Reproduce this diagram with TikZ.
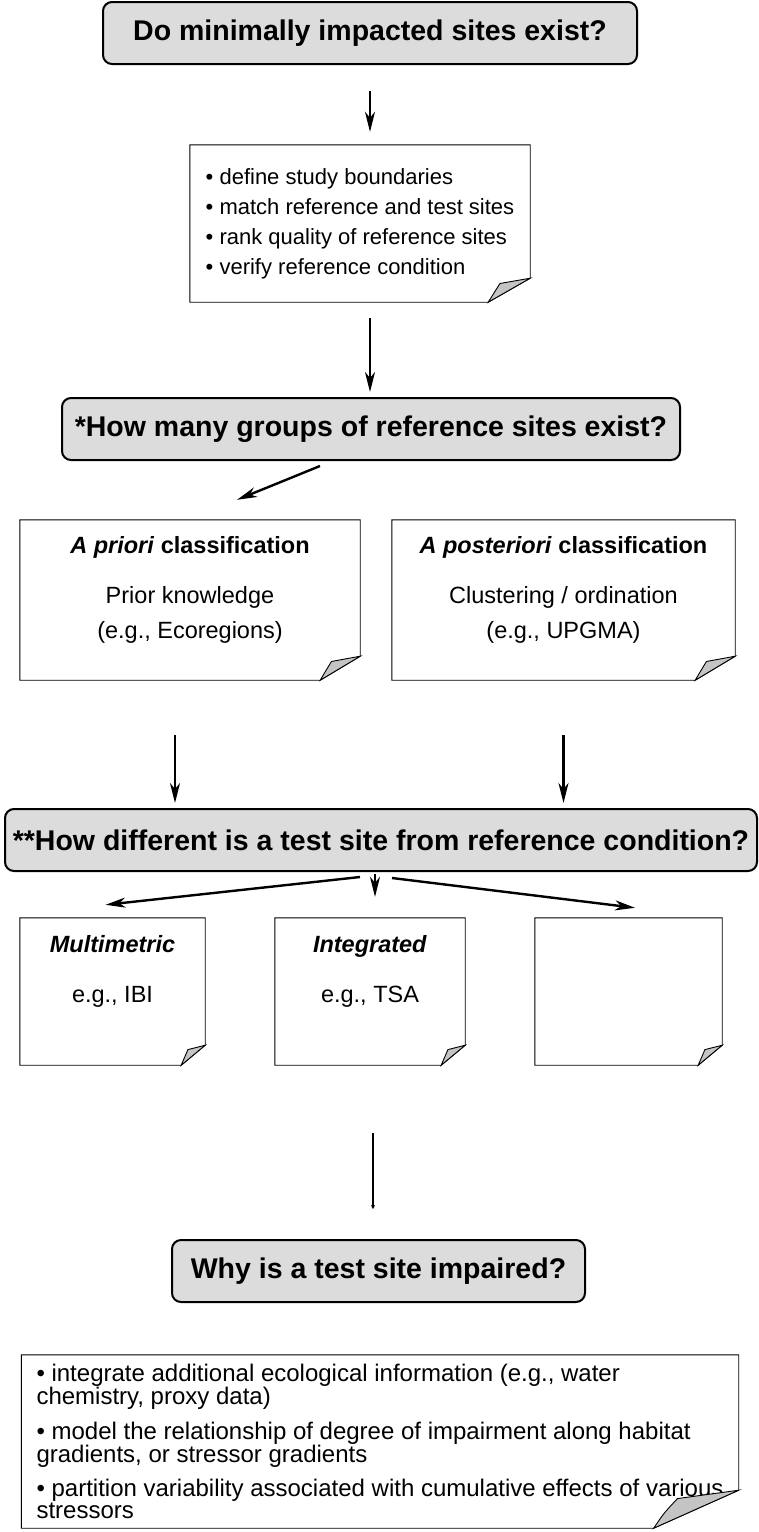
\documentclass[tikz,border=0pt]{standalone}
\usepackage{fontspec}
\setmainfont{Liberation Sans}
\usetikzlibrary{arrows.meta,calc}

\definecolor{headgray}{HTML}{DCDCDC}
\definecolor{flapgray}{HTML}{C4C4C4}

% outline of a note with its lower right corner turned up
% #1 node, #2 fold width, #3 fold height
\newcommand\foldcorner[3]{%
  \draw[notefrm] ([xshift=-#2]#1.south east) -- (#1.south west) -- (#1.north west)
    -- (#1.north east) -- ([yshift=#3]#1.south east) -- cycle;
  \draw[notefrm,fill=flapgray] ([xshift=-#2]#1.south east)
    .. controls ([xshift=-0.88*#2,yshift=0.4*#3]#1.south east) .. ([xshift=-0.72*#2,yshift=0.78*#3]#1.south east)
    -- ([yshift=#3]#1.south east) -- cycle;
}

\begin{document}
\begin{tikzpicture}[
    x=1pt, y=-1pt,
    question/.style={draw,line width=2pt,rounded corners=9pt,fill=headgray,
      minimum height=62pt,inner sep=0pt,font=\fontsize{28.5}{30}\selectfont\bfseries},
    note/.style={inner sep=0pt,align=center,font=\fontsize{23.5}{35}\selectfont},
    notefrm/.style={line width=0.9pt},
    flow/.style={line width=2.4pt,-{Stealth[length=20pt,width=10pt,inset=6pt]}}]
  \useasboundingbox (0,0) rectangle (759,1532);

  \node[question,minimum width=534pt] (minimal) at (370,33) {Do minimally impacted sites exist?};
  \node[note,align=left,minimum width=340pt,minimum height=157pt,
    font=\fontsize{22}{30}\selectfont] (steps) at (360,223.5)
    {\textbullet{} define study boundaries\\
     \textbullet{} match reference and test sites\\
     \textbullet{} rank quality of reference sites\\
     \textbullet{} verify reference condition};
  \node[question,minimum width=618pt] (groups) at (371,429) {*How many groups of reference sites exist?};

  \node[note,minimum width=340pt,minimum height=160pt] (apriori) at (190,600)
    {\textbf{\textit{A priori} classification}\\[15pt]Prior knowledge\\(e.g., Ecoregions)\\[-10pt]\mbox{}};
  \node[note,minimum width=343pt,minimum height=160pt] (apost) at (563.5,600)
    {\textbf{\textit{A posteriori} classification}\\[15pt]Clustering / ordination\\(e.g., UPGMA)\\[-10pt]\mbox{}};

  \node[question,minimum width=752pt] (differ) at (381,840) {**How different is a test site from reference condition?};

  \node[note,minimum width=185pt,minimum height=147pt] (multi) at (112.5,991.5)
    {\textbf{\textit{Multimetric}}\\[15pt]e.g., IBI\\[10pt]\mbox{}};
  \node[note,minimum width=190pt,minimum height=147pt] (integ) at (370,991.5)
    {\textbf{\textit{Integrated}}\\[15pt]e.g., TSA\\[10pt]\mbox{}};
  \node[note,minimum width=187pt,minimum height=147pt] (other) at (628.5,991.5) {};

  \node[question,minimum width=413pt] (impair) at (378.5,1271) {Why is a test site impaired?};
  \node[note,align=left,minimum width=717pt,minimum height=173pt,
    font=\fontsize{24}{22}\selectfont] (causes) at (380,1441.5)
    {\textbullet{} integrate additional ecological information (e.g., water\\
     chemistry, proxy data)\\[11pt]
     \textbullet{} model the relationship of degree of impairment along habitat\\
     gradients, or stressor gradients\\[11pt]
     \textbullet{} partition variability associated with cumulative effects of various\\
     stressors};

  % note outlines
  \foldcorner{steps}{42pt}{24pt}
  \foldcorner{apriori}{40pt}{24pt}
  \foldcorner{apost}{40pt}{24pt}
  \foldcorner{multi}{24pt}{20pt}
  \foldcorner{integ}{24pt}{20pt}
  \foldcorner{other}{24pt}{20pt}
  \foldcorner{causes}{85pt}{38pt}

  % connectors
  \draw[flow,shorten <=26pt,shorten >=13pt] (minimal.south) -- (minimal.south |- steps.north);
  \draw[flow,shorten <=16pt,shorten >=5pt] (minimal.south |- steps.south) -- (minimal.south |- groups.north);
  \draw[flow] ([xshift=-51pt,yshift=-5pt]groups.south) -- ([xshift=47pt,yshift=20pt]apriori.north);
  \draw[flow,shorten <=55pt,shorten >=5pt] ([xshift=-15pt]apriori.south) -- ([xshift=-15pt]apriori.south |- differ.north);
  \draw[flow,shorten <=55pt,shorten >=5pt] (apost.south) -- (apost.south |- differ.north);
  \draw[flow] ([xshift=-21pt,yshift=-5pt]differ.south) -- ([xshift=-7pt,yshift=13pt]multi.north);
  \draw[flow] ([xshift=-6pt,yshift=-2pt]differ.south) -- ([xshift=5pt,yshift=21pt]integ.north);
  \draw[flow] ([xshift=11pt,yshift=-6pt]differ.south) -- ([xshift=6.5pt,yshift=10pt]other.north);
  \draw[line width=2.4pt,-{Stealth[length=4pt,width=4pt]},shorten <=68pt,shorten >=30pt]
    ([xshift=3pt]integ.south) -- ([xshift=3pt]integ.south |- impair.north);
\end{tikzpicture}
\end{document}
